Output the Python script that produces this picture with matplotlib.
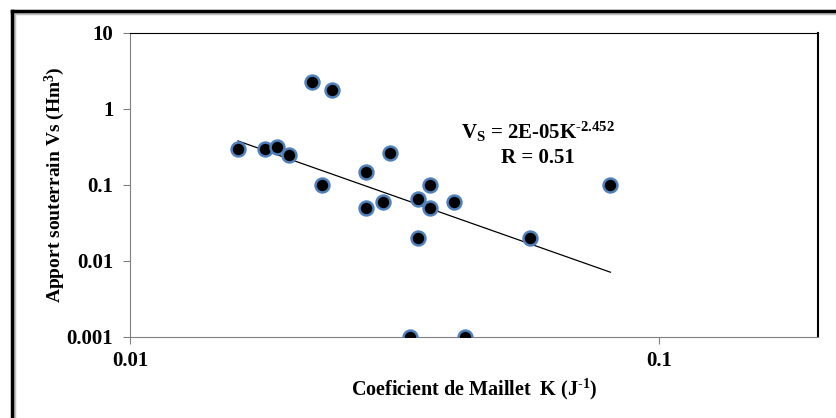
import numpy as np
import matplotlib
matplotlib.use("Agg")
import matplotlib.pyplot as plt
from matplotlib.lines import Line2D

# Data
k_values = [0.016, 0.018, 0.019, 0.020, 0.0221, 0.0241, 0.0231, 0.028, 0.028, 0.0301,
            0.031, 0.0338, 0.035, 0.035, 0.037, 0.037, 0.041, 0.043, 0.057, 0.081]
vs_values = [0.30, 0.30, 0.32, 0.25, 2.25, 1.8, 0.10, 0.15, 0.05, 0.06,
             0.26, 0.001, 0.065, 0.02, 0.10, 0.05, 0.06, 0.001, 0.02, 0.10]

# Power trend line Vs = a * K^b
trend_a = 1.5e-05
trend_b = -2.452

x_ticks = [0.01, 0.1]
x_tick_labels = ["0.01", "0.1"]
y_ticks = [0.001, 0.01, 0.1, 1, 10]
y_tick_labels = ["0.001", "0.01", "0.1", "1", "10"]

plt.rcParams['font.family'] = ['Liberation Serif', 'DejaVu Serif']
plt.rcParams['mathtext.fontset'] = 'custom'
plt.rcParams['mathtext.rm'] = 'Liberation Serif:bold'
plt.rcParams['mathtext.bf'] = 'Liberation Serif:bold'
plt.rcParams['mathtext.it'] = 'Liberation Serif:bold'

fig = plt.figure(figsize=(8.36, 4.18), dpi=100)
ax = fig.add_axes([130 / 836, 81 / 418, 688 / 836, 304 / 418])

ax.set_xscale('log')
ax.set_yscale('log')
ax.set_xlim(0.01, 0.2)
ax.set_ylim(0.001, 10)

# trend line
kx = np.linspace(min(k_values), max(k_values), 100)
ax.plot(kx, trend_a * kx ** trend_b, color='black', lw=0.9, zorder=2)

ax.plot(k_values, vs_values, 'o', ms=10, mfc='black', mec='#4F81BD', mew=1.8,
        ls='none', zorder=3)

ax.set_xticks(x_ticks)
ax.set_xticklabels(x_tick_labels)
ax.set_yticks(y_ticks)
ax.set_yticklabels(y_tick_labels)
ax.minorticks_off()
ax.tick_params(axis='both', labelsize=15, length=5, color='#808080', width=0.8)
for lab in ax.get_xticklabels() + ax.get_yticklabels():
    lab.set_fontweight('bold')
ax.tick_params(axis='y', direction='out', pad=7)
ax.tick_params(axis='x', direction='out', pad=5)

ax.spines['left'].set_color('#808080')
ax.spines['bottom'].set_color('#808080')
ax.spines['top'].set_color('black')
ax.spines['right'].set_color('black')
ax.spines['right'].set_linewidth(1.5)

ax.set_xlabel(r'Coeficient de Maillet  K (J$^{\text{-1}}$)', fontsize=14.5,
              fontweight='bold', labelpad=4)
ax.set_ylabel(r'Apport souterrain Vs (Hm$^{\text{3}}$)', fontsize=14,
              fontweight='bold', labelpad=0)

ax.text(0.059, 0.50, r'V$_{\text{S}}$ = 2E-05K$^{\text{-2.452}}$', fontsize=15,
        fontweight='bold', ha='center', va='center')
ax.text(0.059, 0.23, 'R = 0.51', fontsize=15, fontweight='bold',
        ha='center', va='center')

# outer frame (top and left edges)
fig.add_artist(Line2D([12 / 836, 1.0], [1 - 13 / 418, 1 - 13 / 418],
                      color='#c0c0c0', lw=2.5, transform=fig.transFigure))
fig.add_artist(Line2D([14 / 836, 14 / 836], [0, 1 - 11 / 418],
                      color='#c0c0c0', lw=2.5, transform=fig.transFigure))
fig.add_artist(Line2D([12 / 836, 1.0], [1 - 10.5 / 418, 1 - 10.5 / 418],
                      color='black', lw=2.5, transform=fig.transFigure))
fig.add_artist(Line2D([12 / 836, 12 / 836], [0, 1 - 10.5 / 418],
                      color='black', lw=2.5, transform=fig.transFigure))

fig.savefig('out.png', dpi=100)
